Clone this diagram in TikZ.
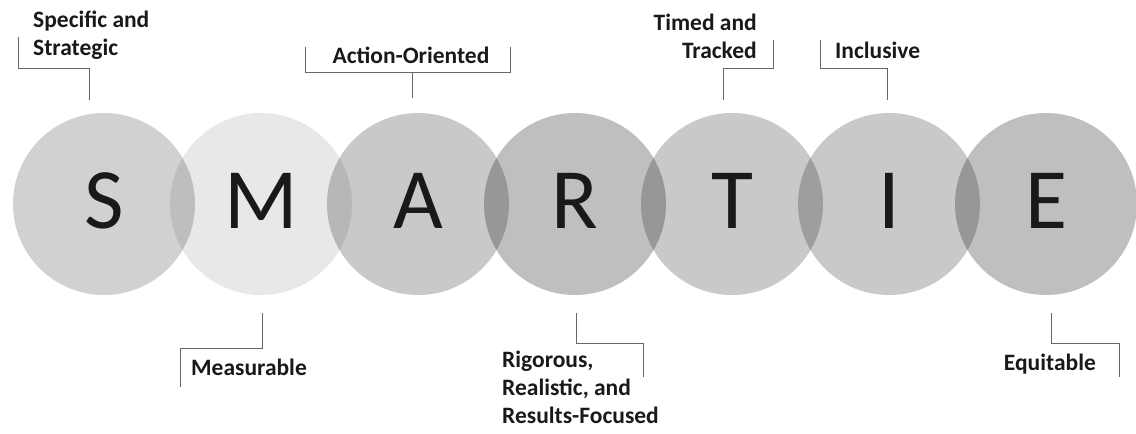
\documentclass[tikz,border=0pt]{standalone}
\usepackage{fontspec}
\setmainfont{Carlito}
\usepackage{xcolor}
\usepackage{tikz}
\usetikzlibrary{positioning}

\begin{document}
\begin{tikzpicture}[
    x=1pt, y=-1pt,
    disc/.style={circle, minimum size=182pt, inner sep=0pt, outer sep=0pt, fill=black, text=black!90, text opacity=1,
        font=\fontsize{86}{86}\selectfont, text height=56pt, text depth=8pt},
    tag/.style={font=\fontsize{23.5}{28}\selectfont\bfseries, inner sep=0pt, text=black!90},
    callout/.style={draw=black!60, line width=0.7pt},
]
    \useasboundingbox (0,0) rectangle (1136,434);

    % circles
    \node[disc, fill opacity=0.18] (cS) at (104,204) {S};
    \node[disc, fill opacity=0.09, right=-25pt of cS] (cM) {M};
    \node[disc, fill opacity=0.21, right=-25pt of cM] (cA) {A};
    \node[disc, fill opacity=0.25, right=-25pt of cA] (cR) {R};
    \node[disc, fill opacity=0.21, right=-25pt of cR] (cT) {T};
    \node[disc, fill opacity=0.21, right=-25pt of cT] (cI) {I};
    \node[disc, fill opacity=0.25, right=-25pt of cI] (cE) {E};

    % labels
    \node[tag, anchor=north west, align=left] (tS) at (33,11) {Specific and\\Strategic};
    \node[tag, anchor=base] (tA) at (411,63) {Action-Oriented};
    \node[tag, anchor=north east, align=right] (tT) at (757,14) {Timed and\\Tracked};
    \node[tag, anchor=base west] (tI) at (835,58) {Inclusive};
    \node[tag, anchor=base west] (tM) at (191,375) {Measurable};
    \node[tag, anchor=north west, align=left] (tR) at (502,351) {Rigorous,\\Realistic, and\\Results-Focused};
    \node[tag, anchor=base east] (tE) at (1096,370) {Equitable};

    % callouts above
    \draw[callout] ([shift={(-15,-13)}]cS.north) |- ++(-71,-32) -- ++(0,-31);
    \draw[callout] ([shift={(-6,-15)}]cA.north) -- ++(0,-26) coordinate (jA) -- ++(-107,0) -- ++(0,-25)
        (jA) -- ++(98,0) -- ++(0,-25);
    \draw[callout] ([shift={(-9,-13)}]cT.north) |- ++(50,-32) -- ++(0,-28);
    \draw[callout] ([shift={(-2,-13)}]cI.north) |- ++(-67,-32) -- ++(0,-28);

    % callouts below
    \draw[callout] ([shift={(1,18)}]cM.south) |- ++(-82,35) -- ++(0,39);
    \draw[callout] ([shift={(1,18)}]cR.south) |- ++(67,30) -- ++(0,34);
    \draw[callout] ([shift={(5,18)}]cE.south) |- ++(68,30) -- ++(0,34);
\end{tikzpicture}
\end{document}
